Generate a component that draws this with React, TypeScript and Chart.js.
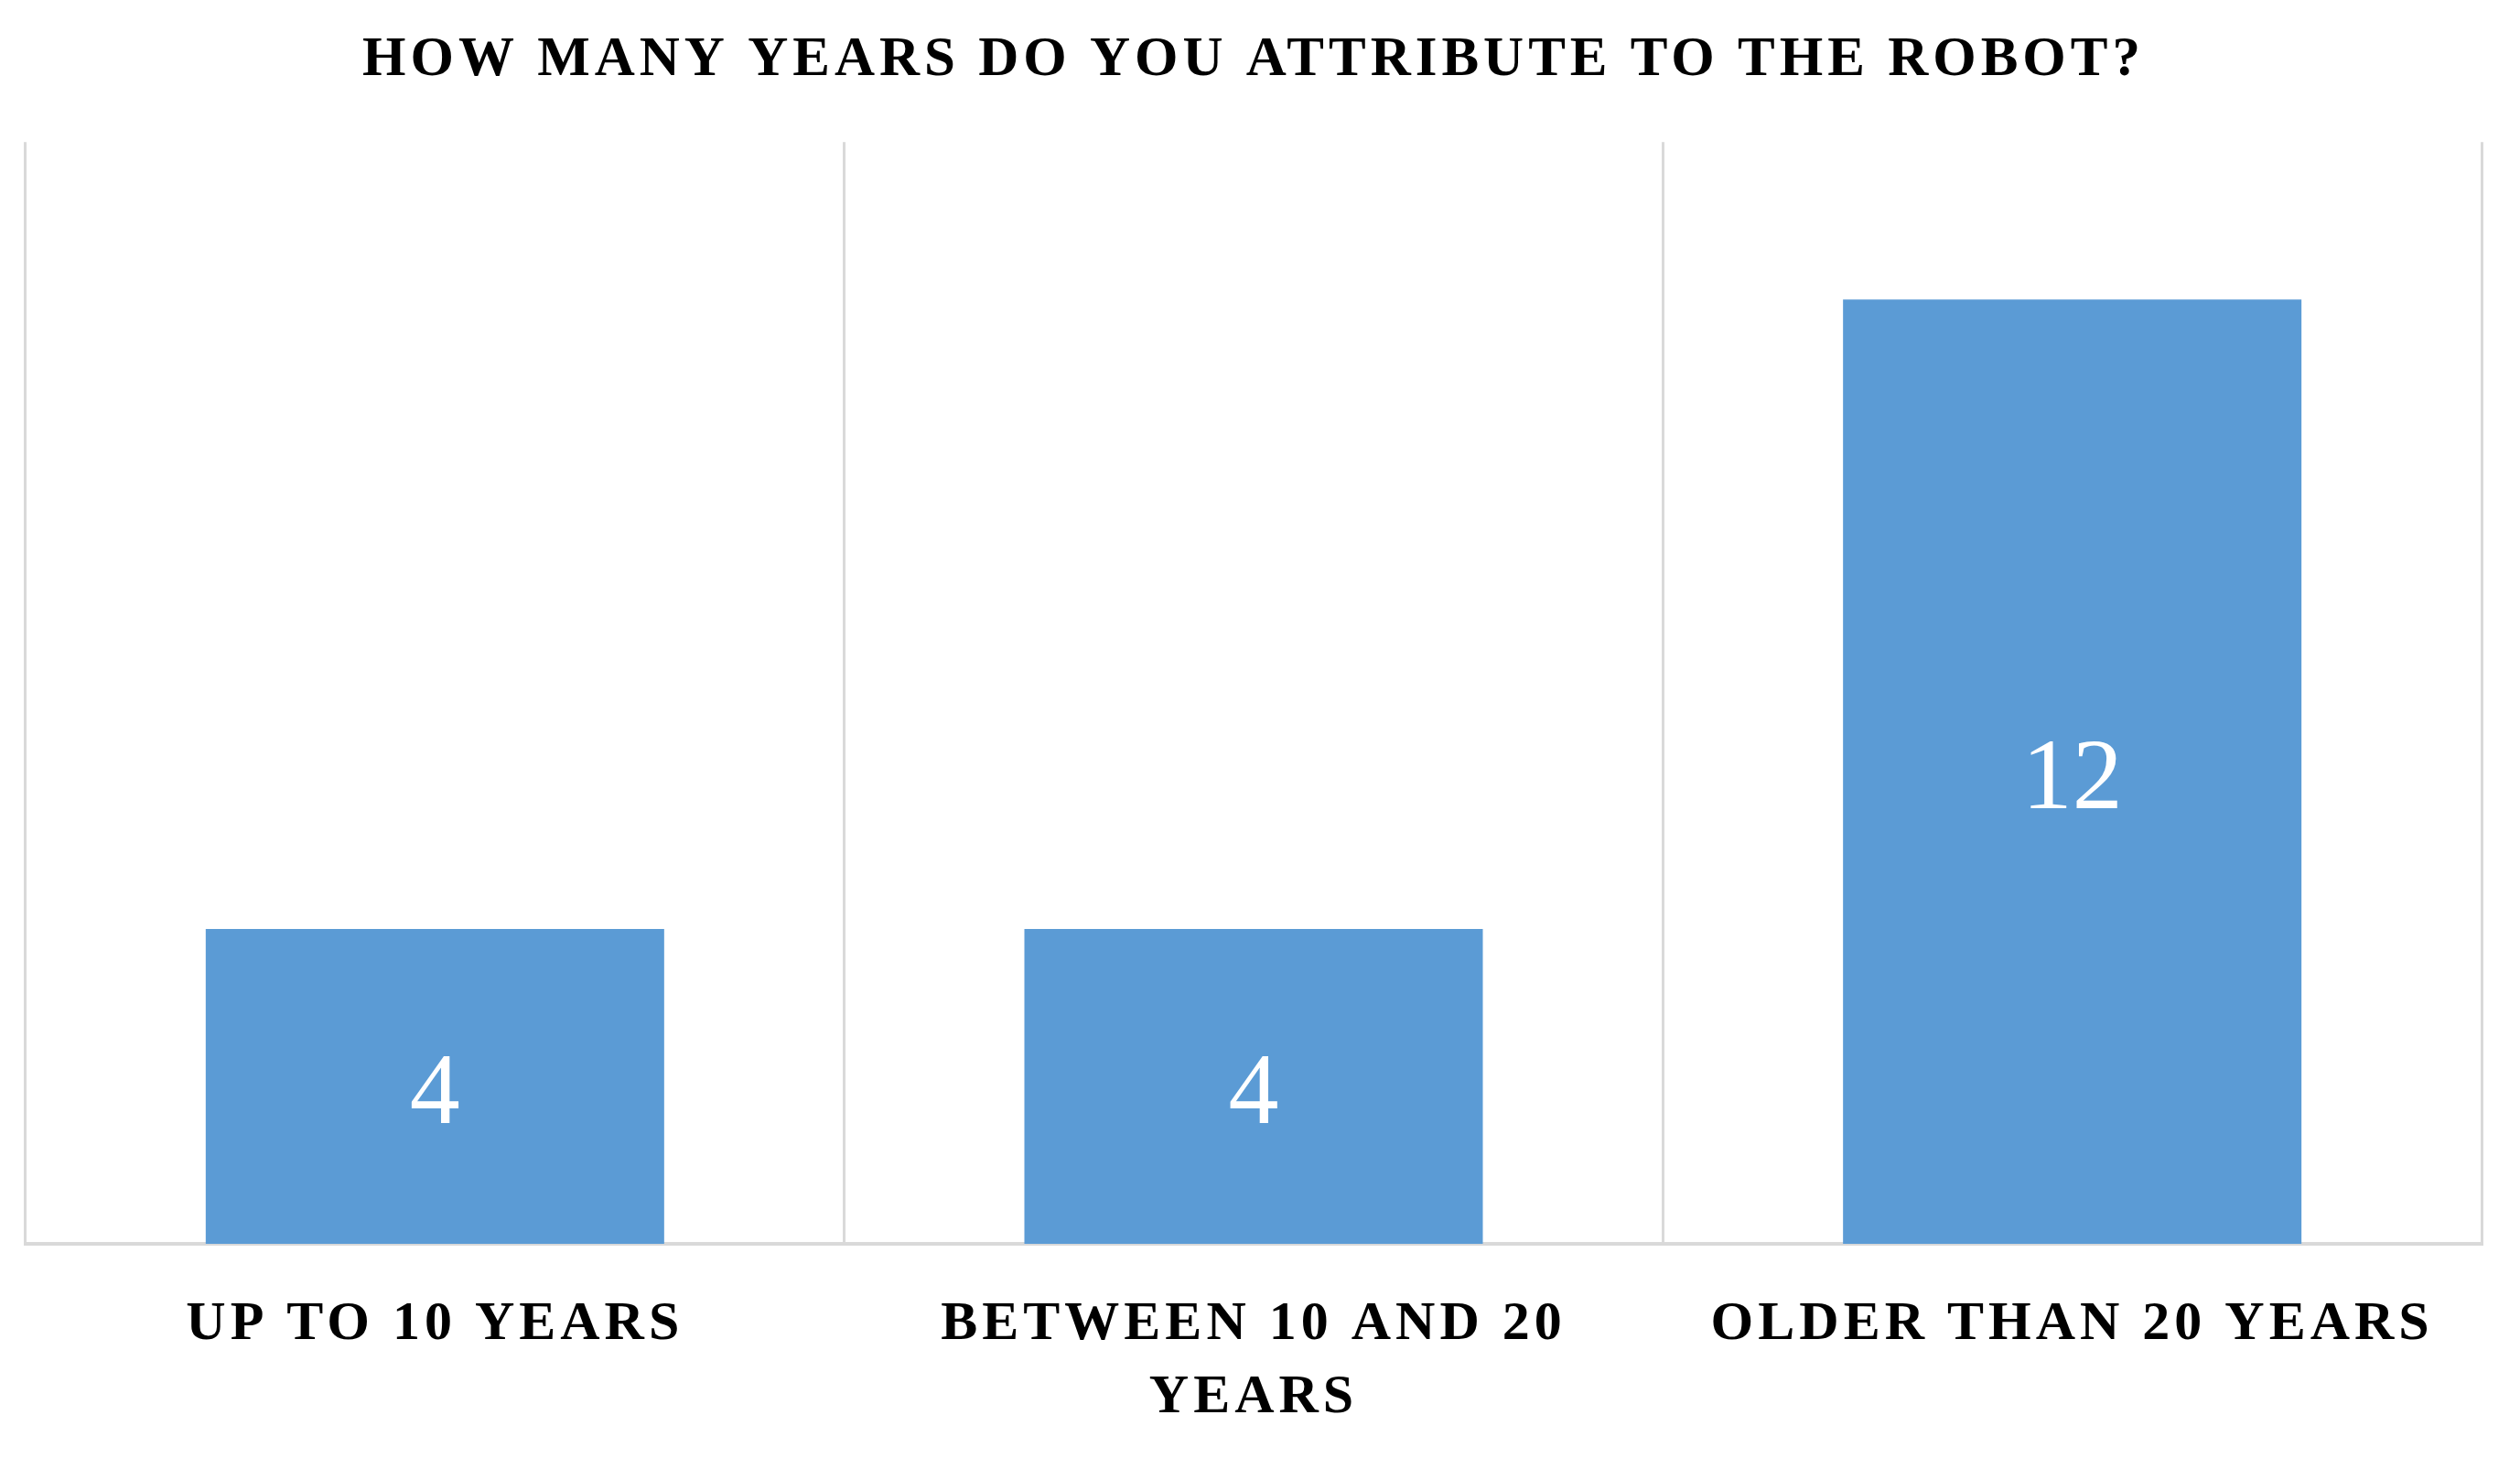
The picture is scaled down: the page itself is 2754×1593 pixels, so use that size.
import React, { useEffect, useRef } from 'react';
import { Chart, registerables } from 'chart.js';

Chart.register(...registerables);

const TITLE = 'HOW MANY YEARS DO YOU ATTRIBUTE TO THE ROBOT?';
const categories: string[][] = [['UP TO 10 YEARS'], ['BETWEEN 10 AND 20', 'YEARS'], ['OLDER THAN 20 YEARS']];
const values: number[] = [4, 4, 12];
const yMin = 0;
const yMax = 14;

const W = 2754;
const H = 1593;
const FAMILY = '"Liberation Serif", "Times New Roman", serif';
const SPACING = '5px';

const spacingPlugin = {
  id: 'letterSpacing',
  beforeUpdate(chart: any) {
    chart.ctx.letterSpacing = SPACING;
  },
  beforeDraw(chart: any) {
    chart.ctx.letterSpacing = SPACING;
  },
};

const valueLabels = {
  id: 'valueLabels',
  afterDatasetsDraw(chart: any) {
    const ctx = chart.ctx;
    const meta = chart.getDatasetMeta(0);
    ctx.save();
    ctx.letterSpacing = '0px';
    ctx.font = `110px ${FAMILY}`;
    ctx.fillStyle = '#ffffff';
    ctx.textAlign = 'center';
    ctx.textBaseline = 'middle';
    meta.data.forEach((bar: any, i: number) => {
      const p = bar.getProps(['x', 'y', 'base'], true);
      ctx.fillText(String(values[i]), p.x, (p.y + p.base) / 2 + 11);
    });
    ctx.restore();
  },
};

export default function App() {
  const ref = useRef<HTMLCanvasElement | null>(null);
  useEffect(() => {
    document.body.style.margin = '0';
    const canvas = ref.current!;
    const chart = new Chart(canvas, {
      type: 'bar',
      data: {
        labels: categories,
        datasets: [
          {
            data: values,
            backgroundColor: '#5b9bd5',
            borderWidth: 0,
            barPercentage: 0.56,
            categoryPercentage: 1,
          },
        ],
      },
      plugins: [spacingPlugin, valueLabels],
      options: {
        responsive: false,
        animation: false,
        devicePixelRatio: 1,
        layout: { padding: { left: 28, right: 42, top: 0, bottom: 0 } },
        plugins: {
          legend: { display: false },
          tooltip: { enabled: false },
          title: {
            display: true,
            text: TITLE,
            color: '#000000',
            font: { family: FAMILY, size: 61, weight: 'bold', lineHeight: 1.2 },
            padding: { top: 30, bottom: 52 },
          },
        },
        scales: {
          x: {
            grid: { display: true, color: '#d9d9d9', lineWidth: 3, drawTicks: false, offset: true },
            border: { display: true, color: '#d9d9d9', width: 4 },
            ticks: {
              color: '#000000',
              font: { family: FAMILY, size: 60, weight: 'bold', lineHeight: 1.333 },
              padding: 49,
              maxRotation: 0,
              minRotation: 0,
              autoSkip: false,
            },
            afterFit(scale: any) {
              scale.height = H - 1359;
            },
          },
          y: {
            display: false,
            min: yMin,
            max: yMax,
          },
        },
      },
    });
    return () => chart.destroy();
  }, []);
  return (
    <div style={{ width: W, height: H, background: '#ffffff' }}>
      <canvas ref={ref} width={W} height={H} style={{ display: 'block' }} />
    </div>
  );
}
